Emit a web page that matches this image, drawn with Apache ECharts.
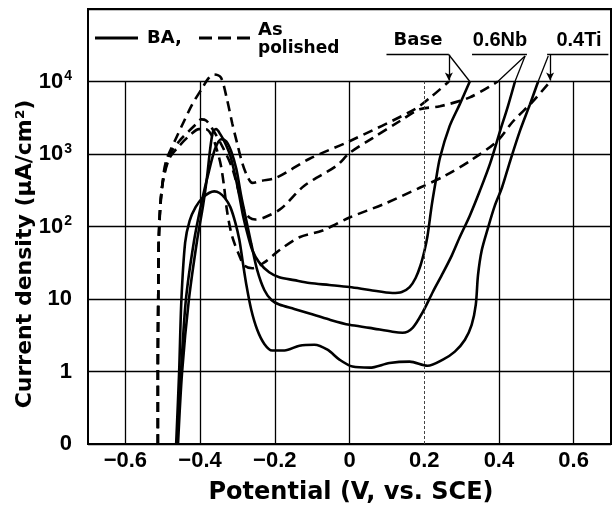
<!DOCTYPE html>
<html>
<head>
<meta charset="utf-8">
<script src="https://cdn.jsdelivr.net/npm/echarts@6/dist/echarts.min.js"></script>
<style>
  html, body { margin: 0; padding: 0; background: #fff; }
  #main { width: 615px; height: 506px; }
</style>
</head>
<body>
<div id="main"></div>
<script>
// tick labels
const xTickValues = [-0.6, -0.4, -0.2, 0, 0.2, 0.4, 0.6];
const xTickLabels = ['\u22120.6', '\u22120.4', '\u22120.2', '0', '0.2', '0.4', '0.6'];
// index = log10(value) + 1, from 0.1 to 1e5
const yTickLabels = ['0', '1', '10', '10{s|2}', '10{s|3}', '10{s|4}', ''];

// BA (solid) curves, [potential V, current density uA/cm2]
const baseBA = [[-0.459,0.1],[-0.448,1],[-0.430,9.7],[-0.408,64],[-0.392,194],[-0.381,500],[-0.373,1170],[-0.365,2070],[-0.357,2200],[-0.346,1880],[-0.333,1420],[-0.319,940],[-0.306,500],[-0.295,266],[-0.285,141],[-0.274,83],[-0.260,47],[-0.242,32],[-0.215,23.4],[-0.188,20],[-0.148,18.2],[-0.107,16.6],[-0.054,15.6],[0,14.6],[0.054,13.3],[0.115,12.1],[0.140,12.5],[0.161,14.6],[0.177,19.5],[0.190,29],[0.201,47],[0.209,75],[0.220,194],[0.231,427],[0.242,880],[0.268,2420],[0.295,4840],[0.322,10000]];
const nbBA = [[-0.462,0.1],[-0.451,1],[-0.438,9.7],[-0.416,64],[-0.395,227],[-0.376,585],[-0.360,1170],[-0.344,1600],[-0.330,1500],[-0.317,1100],[-0.303,624],[-0.290,266],[-0.276,120],[-0.263,58],[-0.247,25],[-0.228,13.3],[-0.209,9.7],[-0.188,8.4],[-0.148,7.3],[-0.107,6.3],[-0.054,5.2],[0,4.4],[0.054,4.0],[0.115,3.53],[0.142,3.42],[0.169,4.0],[0.196,6.6],[0.223,12.5],[0.247,21.3],[0.274,40],[0.295,71],[0.322,141],[0.349,311],[0.376,730],[0.403,2070],[0.424,4550],[0.443,10000]];
const tiBA = [[-0.464,0.1],[-0.456,1],[-0.450,9.7],[-0.440,60],[-0.428,120],[-0.412,185],[-0.393,250],[-0.375,292],[-0.362,305],[-0.348,290],[-0.333,245],[-0.319,185],[-0.306,115],[-0.295,66],[-0.286,33],[-0.276,15.6],[-0.263,7.1],[-0.247,3.76],[-0.228,2.4],[-0.207,1.95],[-0.174,1.95],[-0.134,2.27],[-0.094,2.34],[-0.059,2.0],[-0.027,1.46],[0.008,1.17],[0.054,1.13],[0.107,1.31],[0.161,1.37],[0.209,1.2],[0.250,1.46],[0.282,1.88],[0.309,2.74],[0.327,4.4],[0.338,8.3],[0.344,21.3],[0.354,47],[0.370,93],[0.389,194],[0.408,342],[0.430,800],[0.456,2070],[0.483,4840],[0.505,10000]];

// As polished (dashed) curves
const basePol = [[-0.513,0.1],[-0.513,1],[-0.512,10],[-0.510,80],[-0.502,342],[-0.491,800],[-0.464,1660],[-0.443,2830],[-0.421,4840],[-0.395,8000],[-0.376,11300],[-0.362,12500],[-0.344,11300],[-0.328,5700],[-0.314,2660],[-0.301,1420],[-0.287,750],[-0.274,500],[-0.260,400],[-0.236,427],[-0.196,470],[-0.107,860],[0,1500],[0.174,4130],[0.220,6230],[0.266,10000]];
const nbPol = [[-0.513,0.1],[-0.513,1],[-0.512,10],[-0.510,80],[-0.502,342],[-0.483,940],[-0.456,1500],[-0.430,2070],[-0.408,2660],[-0.397,3000],[-0.384,2900],[-0.368,2270],[-0.341,1290],[-0.314,640],[-0.295,283],[-0.282,166],[-0.268,133],[-0.252,125],[-0.228,133],[-0.183,177],[-0.121,365],[-0.035,685],[0,1030],[0.062,1660],[0.134,2830],[0.188,4130],[0.242,4550],[0.322,6040],[0.397,10000]];
const tiPol = [[-0.513,0.1],[-0.513,1],[-0.512,10],[-0.510,80],[-0.502,342],[-0.483,855],[-0.456,1290],[-0.424,1880],[-0.403,2200],[-0.384,2200],[-0.368,1770],[-0.354,1100],[-0.344,685],[-0.336,365],[-0.328,166],[-0.317,83],[-0.306,55],[-0.295,40],[-0.282,29],[-0.260,26.6],[-0.228,32],[-0.188,47],[-0.134,71],[-0.072,88],[0,133],[0.094,206],[0.188,342],[0.255,500],[0.322,800],[0.395,1500],[0.438,2830],[0.491,5320],[0.537,10000]];

// leader lines from the alloy labels to the curve ends
const leaders = [
  [[0.099,23400],[0.266,23400],false],
  [[0.266,23400],[0.266,10300],true],
  [[0.266,23400],[0.322,10000],false],
  [[0.328,23400],[0.475,23400],false],
  [[0.470,22500],[0.397,10000],false],
  [[0.470,22500],[0.443,10000],false],
  [[0.529,23400],[0.693,23400],false],
  [[0.537,23400],[0.537,10300],true],
  [[0.532,22500],[0.505,10000],false]
];

const numFont = "'Liberation Sans', Arial, sans-serif";
const txtFont = "'DejaVu Sans', sans-serif";

const chart = echarts.init(document.getElementById('main'), null, { renderer: 'canvas' });

function curve(name, data, dashed) {
  return {
    name: name,
    type: 'line',
    data: data,
    showSymbol: false,
    smooth: 0.3,
    silent: true,
    lineStyle: { color: '#000', width: 2.6, type: dashed ? [10, 6] : 'solid' }
  };
}

const option = {
  animation: false,
  backgroundColor: '#fff',
  grid: { left: 88, right: 4, top: 9, bottom: 62, show: true, borderColor: '#000', borderWidth: 2 },
  xAxis: {
    type: 'value', min: -0.7, max: 0.7,
    axisLine: { show: true, onZero: false, lineStyle: { color: '#000', width: 2 } },
    axisTick: { show: false },
    splitLine: { show: false },
    axisLabel: {
      customValues: xTickValues,
      margin: 6,
      color: '#000', fontFamily: numFont, fontWeight: 'bold', fontSize: 22,
      formatter: v => {
        const i = xTickValues.findIndex(t => Math.abs(t - v) < 1e-6);
        return i >= 0 ? xTickLabels[i] : '';
      }
    }
  },
  yAxis: {
    type: 'log', logBase: 10, min: 0.1, max: 1e5,
    axisLine: { show: true, onZero: false, lineStyle: { color: '#000', width: 2 } },
    axisTick: { show: false },
    splitLine: { show: true, lineStyle: { color: '#000', width: 1.3 } },
    axisLabel: {
      margin: 16,
      color: '#000', fontFamily: numFont, fontWeight: 'bold', fontSize: 22,
      formatter: v => yTickLabels[Math.round(Math.log10(v)) + 1] || '',
      rich: {
        s: { fontFamily: numFont, fontWeight: 'bold', fontSize: 14, verticalAlign: 'top', padding: [0, 0, 10, 1] }
      }
    }
  },
  graphic: [
    // y title
    { type: 'text', x: 25, y: 254, rotation: Math.PI / 2,
      style: { text: 'Current density (\u03bcA/cm\u00b2)', fontFamily: txtFont, fontWeight: 'bold', fontSize: 22,
               fill: '#000', align: 'center', verticalAlign: 'middle' } },
    // x title
    { type: 'text', x: 351, y: 493,
      style: { text: 'Potential (V, vs. SCE)', fontFamily: txtFont, fontWeight: 'bold', fontSize: 24,
               fill: '#000', align: 'center', verticalAlign: 'middle' } },
    // legend
    { type: 'line', shape: { x1: 95, y1: 38, x2: 138, y2: 38 }, style: { stroke: '#000', lineWidth: 3 } },
    { type: 'text', x: 147, y: 38, style: { text: 'BA,', fontFamily: txtFont, fontWeight: 'bold', fontSize: 18, fill: '#000', verticalAlign: 'middle' } },
    { type: 'line', shape: { x1: 199, y1: 38, x2: 252, y2: 38 }, style: { stroke: '#000', lineWidth: 3, lineDash: [13, 6] } },
    { type: 'text', x: 258, y: 30, style: { text: 'As', fontFamily: txtFont, fontWeight: 'bold', fontSize: 18, fill: '#000', verticalAlign: 'middle' } },
    { type: 'text', x: 258, y: 49, style: { text: 'polished', fontFamily: txtFont, fontWeight: 'bold', fontSize: 17, fill: '#000', verticalAlign: 'middle' } },
    // alloy labels
    { type: 'text', x: 418, y: 40, style: { text: 'Base', fontFamily: txtFont, fontWeight: 'bold', fontSize: 18, fill: '#000', align: 'center', verticalAlign: 'middle' } },
    { type: 'text', x: 500, y: 40, style: { text: '0.6Nb', fontFamily: numFont, fontWeight: 'bold', fontSize: 20, fill: '#000', align: 'center', verticalAlign: 'middle' } },
    { type: 'text', x: 579, y: 40, style: { text: '0.4Ti', fontFamily: numFont, fontWeight: 'bold', fontSize: 20, fill: '#000', align: 'center', verticalAlign: 'middle' } }
  ],
  series: [
    {
      // vertical grid lines stop at 10^4
      type: 'line', data: [], silent: true,
      markLine: {
        silent: true, symbol: 'none', label: { show: false }, animation: false,
        lineStyle: { color: '#000', width: 1.3, type: 'solid' },
        data: xTickValues.map(v => [
          { coord: [v, 0.1], lineStyle: Math.abs(v - 0.2) < 1e-6 ? { type: [3, 2], color: '#444', width: 1 } : undefined },
          { coord: [v, 1e4] }
        ])
      }
    },
    {
      type: 'line', data: [], silent: true,
      markLine: {
        silent: true, label: { show: false }, animation: false,
        lineStyle: { color: '#000', width: 1.3, type: 'solid' },
        data: leaders.map(l => [
          { coord: l[0], symbol: 'none' },
          { coord: l[1], symbol: l[2] ? 'arrow' : 'none', symbolSize: [6, 8] }
        ])
      }
    },
    curve('Base BA', baseBA, false),
    curve('0.6Nb BA', nbBA, false),
    curve('0.4Ti BA', tiBA, false),
    curve('Base As polished', basePol, true),
    curve('0.6Nb As polished', nbPol, true),
    curve('0.4Ti As polished', tiPol, true)
  ]
};

chart.setOption(option);
</script>
</body>
</html>
